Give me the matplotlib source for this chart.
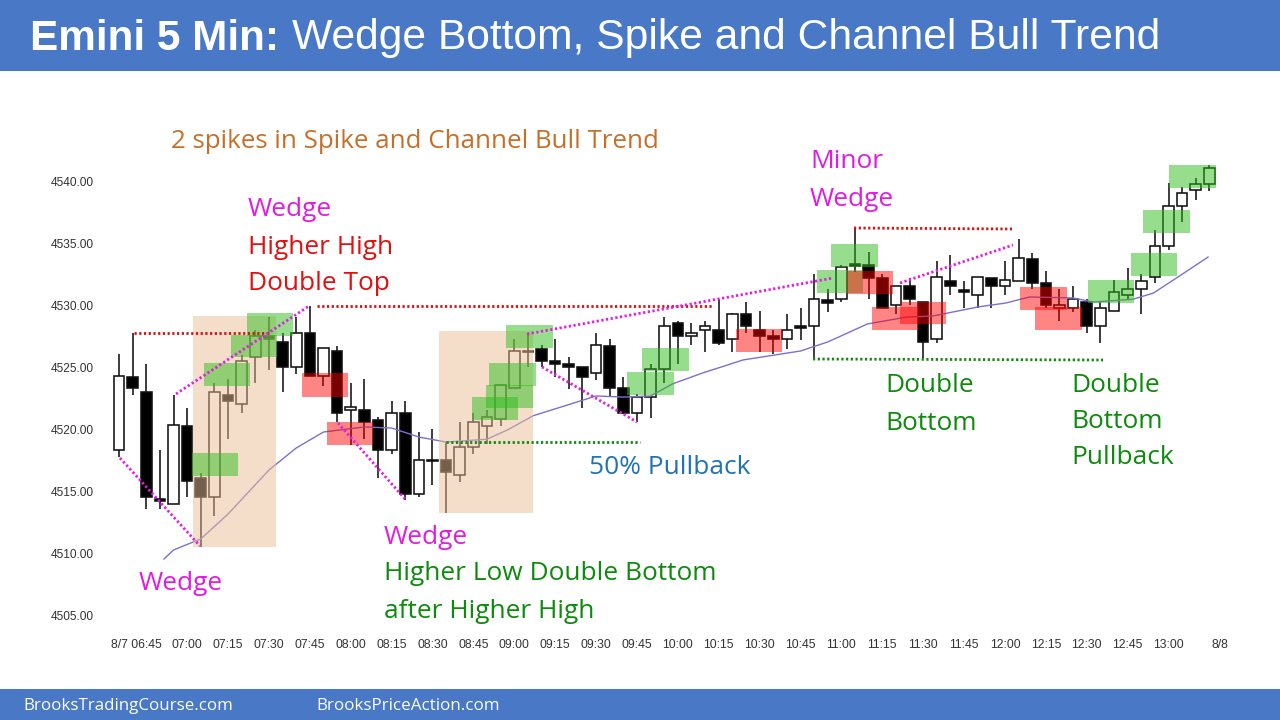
import matplotlib
matplotlib.use('Agg')
import matplotlib.pyplot as plt
from matplotlib.patches import Rectangle
from matplotlib.transforms import ScaledTranslation

# Candles, one value per 5 minute bar
opens = [4518.3, 4524.25, 4523.0, 4514.35, 4514.0, 4520.3, 4516.05, 4514.55, 4522.8, 4522.05,
         4525.8, 4527.5, 4527.05, 4525.05, 4527.75, 4524.3, 4526.3, 4521.55, 4521.55, 4520.75,
         4518.35, 4521.3, 4514.8, 4517.55, 4517.5, 4516.3, 4518.55, 4520.3, 4520.8, 4523.3,
         4526.35, 4526.5, 4525.55, 4525.25, 4525.05, 4524.55, 4526.75, 4523.3, 4521.3, 4522.6,
         4524.85, 4528.55, 4527.55, 4528.05, 4528.0, 4527.3, 4529.3, 4528.0, 4527.55, 4527.3,
         4528.35, 4528.3, 4530.4, 4530.55, 4533.35, 4533.25, 4532.25, 4530.05, 4531.55, 4530.3,
         4527.3, 4532.0, 4531.25, 4530.8, 4532.25, 4531.55, 4532.0, 4533.75, 4531.8, 4529.8,
         4529.8, 4530.25, 4528.35, 4529.55, 4530.8, 4531.3, 4532.3, 4534.8, 4538.05, 4539.3,
         4539.8]
highs = [4526.05, 4527.75, 4525.25, 4518.35, 4522.8, 4521.75, 4516.5, 4523.75, 4524.05, 4526.0,
         4528.0, 4529.05, 4527.8, 4529.05, 4529.95, 4526.55, 4526.75, 4523.75, 4524.05, 4521.0,
         4522.3, 4522.3, 4519.75, 4520.0, 4519.0, 4520.55, 4521.35, 4521.55, 4523.55, 4527.3,
         4527.75, 4526.8, 4527.3, 4525.8, 4525.05, 4527.8, 4527.3, 4524.25, 4522.85, 4525.25,
         4529.05, 4528.75, 4528.55, 4528.75, 4530.5, 4529.4, 4530.3, 4529.55, 4528.0, 4529.3,
         4529.75, 4532.55, 4531.3, 4533.25, 4536.2, 4534.3, 4532.55, 4531.6, 4532.25, 4530.3,
         4533.55, 4534.05, 4532.0, 4532.3, 4532.25, 4533.55, 4535.35, 4534.25, 4532.8, 4531.3,
         4531.55, 4530.55, 4530.3, 4532.05, 4533.05, 4532.55, 4536.05, 4539.85, 4539.55, 4540.3,
         4541.3]
lows = [4517.8, 4522.8, 4513.55, 4513.55, 4514.0, 4514.55, 4510.5, 4513.0, 4519.25, 4521.3,
        4523.75, 4524.8, 4523.05, 4524.5, 4524.3, 4523.5, 4520.55, 4518.75, 4519.25, 4516.05,
        4518.0, 4514.3, 4514.5, 4515.5, 4513.25, 4515.75, 4518.0, 4518.8, 4520.25, 4523.3,
        4525.05, 4525.0, 4524.25, 4523.25, 4521.75, 4524.0, 4522.6, 4521.25, 4520.55, 4520.95,
        4523.75, 4525.25, 4526.8, 4526.25, 4526.8, 4526.25, 4527.75, 4526.25, 4526.05, 4526.5,
        4527.2, 4525.75, 4529.5, 4530.3, 4532.7, 4530.5, 4529.75, 4529.3, 4530.0, 4525.75,
        4527.0, 4530.8, 4529.75, 4529.75, 4529.75, 4530.8, 4532.0, 4531.3, 4529.75, 4528.75,
        4529.5, 4527.75, 4527.0, 4529.55, 4530.5, 4529.3, 4531.8, 4534.5, 4536.75, 4538.5,
        4539.25]
closes = [4524.3, 4523.3, 4514.55, 4514.2, 4520.35, 4515.8, 4514.55, 4523.05, 4522.3, 4525.55,
          4527.5, 4527.3, 4525.05, 4527.8, 4524.3, 4526.55, 4521.3, 4521.8, 4520.6, 4518.35,
          4521.3, 4514.8, 4517.55, 4517.45, 4516.55, 4518.55, 4520.6, 4521.0, 4523.55, 4526.35,
          4526.2, 4525.5, 4525.3, 4525.05, 4524.25, 4526.8, 4523.3, 4521.3, 4522.6, 4524.85,
          4528.35, 4527.55, 4527.8, 4528.3, 4527.0, 4529.33, 4528.3, 4527.5, 4527.3, 4528.05,
          4528.15, 4530.55, 4530.2, 4533.1, 4533.2, 4532.25, 4529.8, 4531.6, 4530.55, 4527.05,
          4532.3, 4531.55, 4531.05, 4532.3, 4531.55, 4532.05, 4533.85, 4531.8, 4530.05, 4530.05,
          4530.55, 4528.35, 4529.8, 4531.05, 4531.3, 4532.0, 4534.8, 4538.05, 4539.05, 4539.8,
          4541.1]

# Moving average, vertices of the purple line (bar number, price)
ma_bars = [3.3, 4, 6, 8, 11, 13, 15, 18, 20, 22, 24, 27, 28.5, 30.4, 32.9, 35, 37, 39, 40.6, 42.8,
           45.8, 50, 52, 54.9, 57.8, 59.7, 63, 65.1, 66.8, 70, 71.5, 74.4, 75.9, 77.8, 79.9]
ma_vals = [4509.53, 4510.26, 4511.15, 4513.16, 4516.71, 4518.49, 4519.78, 4520.19, 4520.1, 4519.38,
           4518.97, 4519.2, 4519.95, 4521.1, 4521.96, 4522.69, 4522.6, 4522.69, 4523.66, 4524.54,
           4525.6, 4526.32, 4527.05, 4528.5, 4529.06, 4529.14, 4529.87, 4530.2, 4530.68, 4530.6,
           4530.27, 4530.5, 4531.0, 4532.37, 4533.9]

y_ticks = [4505, 4510, 4515, 4520, 4525, 4530, 4535, 4540]
x_ticks = list(range(2, 78, 3)) + [80.8]
x_labels = ['8/7 06:45', '07:00', '07:15', '07:30', '07:45', '08:00', '08:15', '08:30', '08:45',
            '09:00', '09:15', '09:30', '09:45', '10:00', '10:15', '10:30', '10:45', '11:00',
            '11:15', '11:30', '11:45', '12:00', '12:15', '12:30', '12:45', '13:00', '8/8']

W = 1280
H = 720
fig = plt.figure(figsize=(12.8, 7.2), dpi=100)

# chart area, in pixels of the picture
left, right, top, bottom = 100, 1230, 150, 630
ax = fig.add_axes([left / W, 1 - bottom / H, (right - left) / W, (bottom - top) / H])
ax.set_xlim((left - 119) / 13.63, (right - 119) / 13.63)
ax.set_ylim(4540 - (bottom - 181.5) / 12.39, 4540 - (top - 181.5) / 12.39)

for i in range(len(opens)):
    ax.vlines(i, lows[i], highs[i], color='#111111', linewidth=1.15, zorder=2)
    up = closes[i] >= opens[i]
    ax.bar(i, abs(closes[i] - opens[i]), bottom=min(opens[i], closes[i]), width=0.78,
           facecolor='white' if up else 'black', edgecolor='#111111', linewidth=1.15, zorder=3)

ax.plot(ma_bars, ma_vals, color='#7B70D0', linewidth=1.0, zorder=4)

for s in ax.spines.values():
    s.set_visible(False)
ax.set_yticks(y_ticks)
ax.set_yticklabels(['%.2f' % v for v in y_ticks])
ax.set_xticks(x_ticks)
ax.set_xticklabels(x_labels)
ax.tick_params(length=0, labelcolor='#333333')
ax.tick_params(axis='x', pad=6.5, labelsize=8.8)
ax.tick_params(axis='y', pad=4.4, labelsize=8.6)
for t in ax.get_xticklabels() + ax.get_yticklabels():
    t.set_family('Liberation Sans')
first = ax.get_xticklabels()[0]
first.set_ha('right')
first.set_transform(first.get_transform() + ScaledTranslation(15 / 100, 0, fig.dpi_scale_trans))

# overlay in picture pixels for the boxes, lines and notes drawn on top of the chart
ov = fig.add_axes([0, 0, 1, 1], facecolor='none')
ov.set_xlim(0, W)
ov.set_ylim(H, 0)
ov.axis('off')

ov.add_patch(Rectangle((0, 0), W, 71, facecolor='#4878C6', edgecolor='none'))
ov.add_patch(Rectangle((0, 689), W, 31, facecolor='#4878C6', edgecolor='none'))

tan_boxes = [(193, 316, 83, 231), (439, 331, 94, 182)]
for b in tan_boxes:
    ov.add_patch(Rectangle(b[:2], b[2], b[3], facecolor='#EBBF96', alpha=0.5, edgecolor='none'))

green_boxes = [(192, 453, 46, 23), (204, 363, 46, 23), (231, 335, 46, 22), (247, 313, 46, 23),
               (472, 397, 46, 23), (486, 385, 47, 23), (489, 363, 47, 23), (506, 325, 47, 23),
               (627, 372, 47, 23), (642, 348, 47, 23), (817, 270, 46, 23), (831, 244, 47, 23),
               (1088, 280, 46, 23), (1131, 253, 46, 23), (1143, 210, 47, 23), (1169, 165, 47, 23)]
for b in green_boxes:
    ov.add_patch(Rectangle(b[:2], b[2], b[3], facecolor='#2EBD1E', alpha=0.5, edgecolor='none'))

red_boxes = [(302, 373, 46, 24), (327, 422, 46, 23), (736, 329, 46, 23), (847, 271, 46, 23),
             (872, 307, 46, 23), (900, 302, 46, 22), (1020, 287, 47, 23), (1035, 307, 47, 23)]
for b in red_boxes:
    ov.add_patch(Rectangle(b[:2], b[2], b[3], facecolor='#FF0000', alpha=0.48, edgecolor='none'))

dot = (0, (0.8, 0.9))
red_lines = [((134, 270), (333, 333)), ((317, 713), (306, 306)), ((854, 1013), (228, 229))]
for xs, ys in red_lines:
    ov.plot(xs, ys, color='#D81010', linewidth=2.0, linestyle=dot)

pink_lines = [((120, 200), (458, 546)), ((176, 309), (394, 306)), ((338, 405), (423, 499)),
              ((527, 833), (334, 278)), ((542, 637), (367, 422)), ((900, 1013), (283, 245))]
for xs, ys in pink_lines:
    ov.plot(xs, ys, color='#E41CE4', linewidth=2.0, linestyle=dot)

green_lines = [((446, 640), (442, 442)), ((813, 1103), (359, 360))]
for xs, ys in green_lines:
    ov.plot(xs, ys, color='#108A10', linewidth=2.0, linestyle=dot)

# header and footer
ov.text(30, 38.5, 'Emini 5 Min:', color='white', fontsize=30.4, fontweight='bold',
        family='Liberation Sans', va='center')
ov.text(292, 38.5, 'Wedge Bottom, Spike and Channel Bull Trend', color='white', fontsize=30.7,
        family='Liberation Sans', va='center')
ov.text(23, 706.5, 'BrooksTradingCourse.com', color='white', fontsize=12.15, family='Open Sans', va='center')
ov.text(316, 706.5, 'BrooksPriceAction.com', color='white', fontsize=12.25, family='Open Sans', va='center')

# notes on the chart
PINK = '#E21AE2'
RED = '#E01010'
GREEN = '#0E8A0E'
ov.text(171, 141, '2 spikes in Spike and Channel Bull Trend', color='#C5702A', fontsize=18.65,
        family='Open Sans', va='center')
notes = [(248, 210, 'Wedge', PINK), (248, 247, 'Higher High', RED), (248, 283, 'Double Top', RED),
         (139, 584, 'Wedge', PINK), (384, 538, 'Wedge', PINK),
         (384, 574, 'Higher Low Double Bottom', GREEN), (384, 611, 'after Higher High', GREEN),
         (589, 467, '50% Pullback', '#2273B5'), (810, 162, 'Minor', PINK), (810, 199, 'Wedge', PINK),
         (885, 386, 'Double', GREEN), (885, 423, 'Bottom', GREEN),
         (1071, 385, 'Double', GREEN), (1071, 422, 'Bottom', GREEN), (1071, 458, 'Pullback', GREEN)]
for x, y, s, c in notes:
    ov.text(x, y, s, color=c, fontsize=18.9, family='Open Sans', va='center')

fig.savefig('out.png', dpi=100)
